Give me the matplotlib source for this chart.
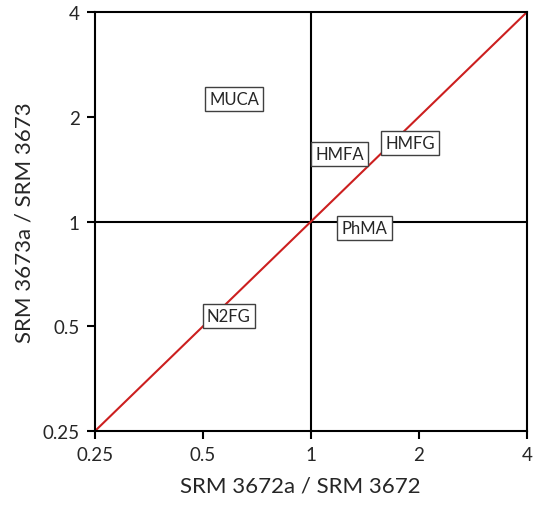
import matplotlib
matplotlib.use("Agg")
import matplotlib.pyplot as plt
import numpy as np

plt.rcParams['font.family'] = ['Lato', 'DejaVu Sans']

# axis ticks (log2 scale)
tick_values = [0.25, 0.5, 1, 2, 4]
tick_labels = ['0.25', '0.5', '1', '2', '4']

# sample labels and their ratio positions
samples = ['MUCA', 'HMFA', 'HMFG', 'PhMA', 'N2FG']
ratio_x = [0.61, 1.20, 1.89, 1.41, 0.59]   # SRM 3672a / SRM 3672
ratio_y = [2.25, 1.56, 1.68, 0.96, 0.535]  # SRM 3673a / SRM 3673

fig = plt.figure(figsize=(5.34, 5.06), dpi=100)
ax = fig.add_axes([0.1779, 0.1462, 0.8090, 0.8281])

ax.set_xscale('log', base=2)
ax.set_yscale('log', base=2)
ax.set_xlim(0.25, 4)
ax.set_ylim(0.25, 4)

# 1:1 line and reference lines
ax.plot([0.25, 4], [0.25, 4], color='#cc1f1f', linewidth=1.5, zorder=2)
ax.axvline(1, color='black', linewidth=1.5, zorder=1)
ax.axhline(1, color='black', linewidth=1.5, zorder=1)

for name, x, y in zip(samples, ratio_x, ratio_y):
    ax.text(x, y, name, fontsize=12, ha='center', va='center', color='#262626',
            bbox=dict(facecolor='white', edgecolor='#404040', linewidth=1,
                      boxstyle='square,pad=0.25'), zorder=3)

ax.set_xticks(tick_values)
ax.set_xticklabels(tick_labels)
ax.set_yticks(tick_values)
ax.set_yticklabels(tick_labels)
ax.minorticks_off()
ax.tick_params(direction='out', length=6, width=1.5, labelsize=13.5,
               colors='black', labelcolor='#262626', pad=5)

for sp in ax.spines.values():
    sp.set_linewidth(1.5)

ax.set_xlabel('SRM 3672a / SRM 3672', fontsize=16, color='#262626')
ax.set_ylabel('SRM 3673a / SRM 3673', fontsize=16, color='#262626', labelpad=6)
ax.xaxis.set_label_coords(0.475, -0.105)

fig.savefig('out.png', dpi=100)
